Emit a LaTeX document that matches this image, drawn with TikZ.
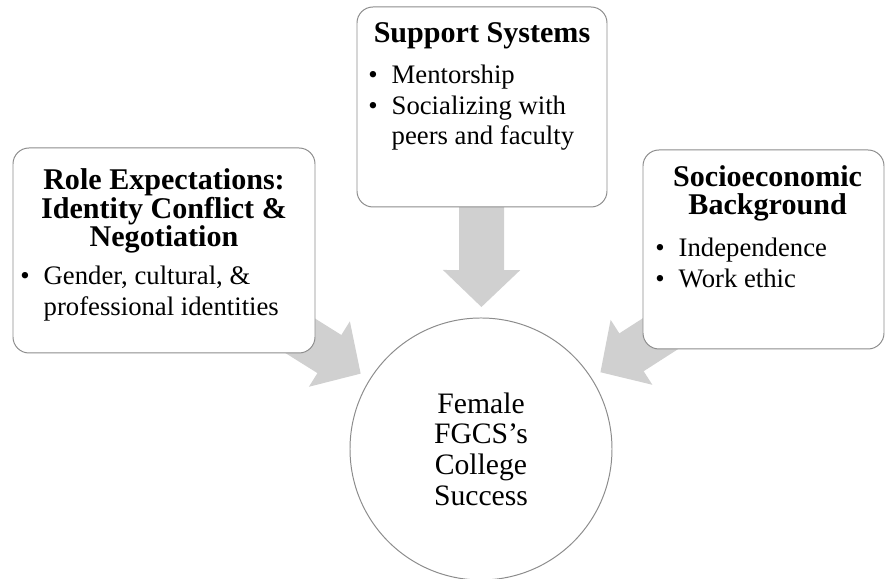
\documentclass[tikz,border=0pt]{standalone}
\usepackage{fontspec}
\setmainfont{Liberation Serif}
\usepackage{tikz}
\usetikzlibrary{positioning, arrows.meta, backgrounds}
\usepackage{xcolor}
\definecolor{framegray}{HTML}{8C8C8C}
\definecolor{arrowgray}{HTML}{D0D0D0}

\begin{document}
\begin{tikzpicture}[
    box/.style={rectangle, rounded corners=0.4cm, draw=framegray, fill=white, line width=0.7pt, inner sep=0pt},
    title/.style={align=center, inner sep=0pt, anchor=base, font=\bfseries\fontsize{21.4}{20.6}\selectfont},
    items/.style={inner sep=0pt, anchor=base west, font=\fontsize{19}{21.7}\selectfont},
    hub/.style={circle, draw=framegray, fill=white, line width=0.7pt, minimum size=6.55cm, inner sep=0pt, align=center, font=\fontsize{21.1}{21.8}\selectfont},
    flow/.style={-{Triangle[length=0.925cm, width=1.875cm]}, line width=1.125cm, draw=arrowgray, shorten >=0.26cm}
]
    \useasboundingbox (0,0) rectangle (22.125,14.475);

    \node[hub] (success) at (12.025,3.25) {Female\\FGCS’s\\College\\Success};

    \node[box, minimum width=6.25cm, minimum height=5cm] (support) at (12.05,11.8) {};
    \node[box, minimum width=7.55cm, minimum height=5.125cm] (roles) at (4.1,8.2125) {};
    \node[box, minimum width=6.025cm, minimum height=4.975cm] (socio) at (19.0875,8.2375) {};

    % titles sit on the baseline of their last line
    \node[title] (supporttitle) at (12.05,13.4) {Support Systems};
    \node[items] (supportlist) at (9.2,12.375) {\begin{tabular}[t]{@{}l@{\hspace{10pt}}l@{}}
        \textbullet & Mentorship\\
        \textbullet & Socializing with\\
                    & peers and faculty
    \end{tabular}};

    \node[title] (rolestitle) at (4.1,8.3) {Role Expectations:\\Identity Conflict \&\\Negotiation};
    \node[items] (roleslist) at (0.5,7.35) {\begin{tabular}[t]{@{}l@{\hspace{10pt}}l@{}}
        \textbullet & Gender, cultural, \&\\
                    & professional identities
    \end{tabular}};

    \node[title] (sociotitle) at (19.19,9.1) {Socioeconomic\\Background};
    \node[items] (sociolist) at (16.375,8.05) {\begin{tabular}[t]{@{}l@{\hspace{10pt}}l@{}}
        \textbullet & Independence\\
        \textbullet & Work ethic
    \end{tabular}};

    \begin{scope}[on background layer]
        \draw[flow] (support.center) -- (success);
        \draw[flow] (roles.center) -- (success);
        \draw[flow] ([yshift=-0.45cm]socio.center) -- (success);
    \end{scope}
\end{tikzpicture}
\end{document}
